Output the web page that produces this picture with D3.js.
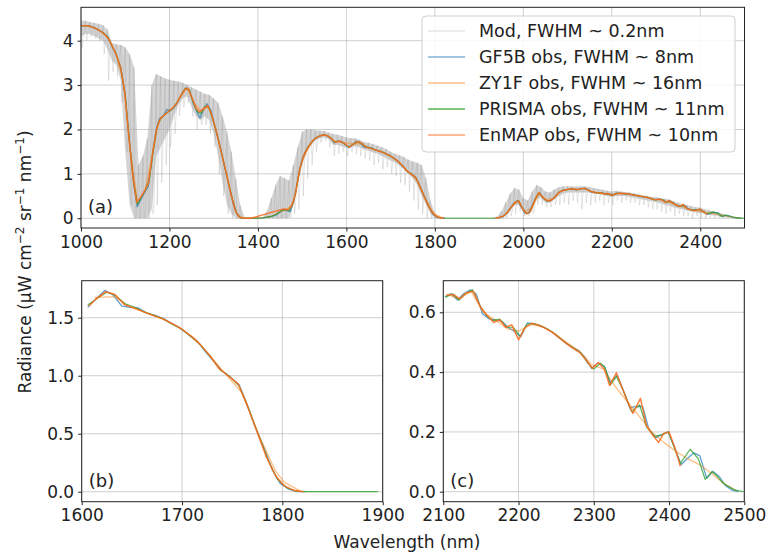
<!DOCTYPE html>
<html>
<head>
<meta charset="utf-8">
<script src="https://cdn.jsdelivr.net/npm/d3@7"></script>
<style>
  body { margin: 0; background: #fff; }
  svg { display: block; font-family: "DejaVu Sans", sans-serif; }
</style>
</head>
<body>
<svg id="chart" width="768" height="557"></svg>
<script>
// ---- data ----
// high resolution model: wavelength, upper envelope, lower edge of the dense band, tips of the absorption spikes
const modWl = d3.range(1000, 2501, 10);
const modHi = [4.45,4.45,4.42,4.40,4.38,4.35,4.25,3.95,3.92,3.90,3.85,3.70,3.40,1.20,1.40,1.80,3.00,3.25,3.20,3.15,
  3.12,3.10,3.08,3.05,3.00,2.95,2.90,2.85,2.80,2.78,2.70,2.60,2.30,1.95,1.50,0.90,0.30,0.02,0,0,
  0,0,0.15,0.45,0.75,0.95,0.90,0.85,1.20,1.60,1.95,2.00,2.00,1.98,1.97,1.96,1.93,1.90,1.88,1.85,
  1.82,1.80,1.80,1.77,1.72,1.70,1.67,1.64,1.60,1.56,1.50,1.45,1.42,1.38,1.32,1.28,1.25,1.20,0.90,0.40,
  0.10,0,0,0,0,0,0,0,0,0,0,0,0,0,0.03,0.15,0.35,0.55,0.68,0.65,
  0.45,0.40,0.60,0.75,0.70,0.60,0.58,0.65,0.70,0.72,0.72,0.72,0.71,0.72,0.72,0.70,0.68,0.66,0.64,0.62,
  0.60,0.62,0.60,0.59,0.58,0.56,0.54,0.52,0.50,0.48,0.47,0.45,0.44,0.42,0.38,0.35,0.32,0.30,0.27,0.25,
  0.24,0.20,0.18,0.15,0.12,0.10,0.06,0.04,0.02,0.01,0];
const modCore = [4.10,4.15,4.15,4.10,4.05,4.00,3.80,3.55,3.45,3.10,1.50,0.30,0,0,0,0,0.20,1.40,1.60,1.80,
  2.00,2.30,2.55,2.70,2.75,2.50,2.30,2.20,2.30,2.20,1.90,1.40,0.80,0.30,0.10,0,0,0,0,0,
  0,0,0,0,0,0,0,0,0.30,0.80,1.20,1.50,1.65,1.75,1.80,1.82,1.78,1.65,1.65,1.62,
  1.58,1.60,1.62,1.60,1.55,1.52,1.48,1.45,1.40,1.35,1.30,1.25,1.18,1.10,1.00,0.90,0.75,0.50,0.30,0.10,
  0,0,0,0,0,0,0,0,0,0,0,0,0,0,0,0,0.05,0.15,0.30,0.30,
  0.15,0.10,0.20,0.45,0.45,0.35,0.35,0.42,0.50,0.55,0.58,0.58,0.58,0.58,0.58,0.58,0.55,0.55,0.52,0.50,
  0.48,0.50,0.50,0.50,0.48,0.46,0.44,0.42,0.40,0.38,0.36,0.34,0.30,0.28,0.25,0.22,0.20,0.17,0.15,0.13,
  0.12,0.10,0.08,0.06,0.05,0.03,0.02,0.01,0,0,0];
const modLo = [3.85,4.00,4.10,4.05,4.00,3.70,3.10,3.30,3.20,2.60,1.60,0.40,0,0,0,0,0.10,0.30,0.80,1.20,
  1.60,1.90,2.30,2.50,2.60,2.30,2.00,2.10,2.10,1.90,1.60,1.00,0.50,0.10,0,0,0,0,0,0,
  0,0,0,0,0,0.02,0.05,0.05,0.10,0.20,0.50,0.90,1.20,1.50,1.70,1.75,1.60,1.40,1.45,1.50,
  1.40,1.50,1.45,1.40,1.35,1.30,1.20,1.25,1.10,1.15,1.00,0.95,0.80,0.75,0.60,0.40,0.20,0.10,0,0,
  0,0,0,0,0,0,0,0,0,0,0,0,0,0,0,0,0,0.05,0.10,0.15,
  0.05,0.05,0.10,0.30,0.30,0.25,0.25,0.30,0.30,0.35,0.30,0.40,0.35,0.20,0.35,0.30,0.35,0.40,0.30,0.35,
  0.30,0.40,0.35,0.40,0.35,0.35,0.30,0.30,0.25,0.20,0.20,0.15,0.10,0.15,0.05,0.10,0.05,0.05,0,0.05,
  0,0,0.02,0,0.01,0,0,0,0,0,0];

// sensor observations: [wavelength, radiance], null = no band
const gf5b = [[1000,4.34],[1010,4.34],[1020,4.33],[1030,4.29],[1040,4.24],[1050,4.18],[1060,4.09],[1070,3.88],[1080,3.68],[1090,3.38],
  [1100,2.78],[1110,1.68],[1120,0.72],[1127,0.26],[1135,0.42],[1144,0.58],[1152,0.72],[1160,1.30],[1169,1.95],[1177,2.24],
  [1186,2.30],[1194,2.45],[1202,2.42],[1211,2.50],[1219,2.63],[1228,2.80],[1237,2.94],[1245,2.88],[1253,2.62],[1261,2.42],
  [1269,2.26],[1277,2.45],[1285,2.58],[1294,2.42],[1302,2.10],[1311,1.76],[1319,1.40],[1328,1.02],[1336,0.66],[1344,0.33],
  [1352,0.10],[1360,0.01],[1370,0],[1390,0],[1410,0.01],[1430,0.04],[1440,0.07],[1449,0.13],[1457,0.19],[1465,0.17],
  [1473,0.15],[1481,0.38],[1490,0.85],[1498,1.25],[1506,1.48],[1515,1.62],[1523,1.74],[1531,1.81],[1540,1.85],[1548,1.88],
  [1556,1.86],[1565,1.80],[1573,1.70],[1581,1.74],[1590,1.72],[1598,1.66],
  [1606,1.59],[1614,1.66],[1623,1.735],[1631,1.70],[1640,1.60],[1648,1.59],[1656,1.585],[1665,1.54],[1673,1.52],[1682,1.49],
  [1690,1.45],[1698,1.41],[1707,1.35],[1715,1.30],[1723,1.21],[1732,1.12],[1740,1.04],[1748,0.99],[1757,0.92],[1765,0.75],
  [1773,0.56],[1782,0.37],[1790,0.19],[1798,0.07],[1807,0.02],[1815,0],[1823,0],[1880,null],
  [1945,0.01],[1953,0.04],[1962,0.11],[1970,0.22],[1978,0.33],[1987,0.40],[1995,0.26],[2003,0.12],[2012,0.11],[2020,0.28],
  [2028,0.46],[2037,0.57],[2045,0.45],[2053,0.39],[2062,0.40],[2070,0.47],[2078,0.56],[2087,0.62],[2095,0.64],
  [2102,0.652],[2110,0.662],[2119,0.641],[2127,0.662],[2136,0.675],[2144,0.66],[2152,0.595],[2161,0.578],[2169,0.575],[2178,0.57],
  [2186,0.55],[2195,0.535],[2203,0.518],[2212,0.565],[2220,0.562],[2229,0.555],[2237,0.545],[2246,0.532],[2254,0.515],[2263,0.497],
  [2271,0.483],[2280,0.472],[2288,0.45],[2297,0.412],[2305,0.43],[2314,0.42],[2322,0.365],[2331,0.39],[2339,0.34],[2348,0.28],
  [2356,0.285],[2365,0.285],[2373,0.21],[2382,0.18],[2390,0.19],[2399,0.20],[2407,0.15],[2416,0.09],[2424,0.11],[2433,0.13],
  [2441,0.12],[2450,0.045],[2458,0.068],[2467,0.05],[2475,0.02],[2484,0.005],[2492,0]];

const zy1f = [[1000,4.34],[1016,4.33],[1032,4.28],[1048,4.19],[1064,4.02],[1080,3.68],[1096,3.05],[1112,1.50],[1128,0.36],[1144,0.60],
  [1160,1.35],[1176,2.20],[1192,2.36],[1208,2.48],[1224,2.72],[1240,2.93],[1256,2.60],[1272,2.40],[1288,2.52],[1304,2.05],
  [1320,1.38],[1336,0.68],[1352,0.10],[1368,0],[1384,0],[1400,0.01],[1416,0.02],[1432,0.05],[1448,0.14],[1464,0.19],
  [1480,0.33],[1496,1.18],[1512,1.55],[1528,1.79],[1544,1.87],[1560,1.85],[1576,1.72],[1592,1.71],
  [1613,1.675],[1633,1.68],[1649,1.59],[1665,1.54],[1681,1.49],[1697,1.42],[1713,1.32],[1729,1.16],[1745,1.00],[1761,0.84],
  [1777,0.48],[1793,0.18],[1802,0.08],[1818,0.005],[1880,null],
  [1940,0],[1956,0.05],[1972,0.24],[1988,0.38],[2004,0.15],[2020,0.25],[2036,0.55],[2052,0.42],[2068,0.45],[2084,0.60],
  [2089,0.62],[2105,0.66],[2121,0.645],[2137,0.67],[2153,0.60],[2169,0.575],[2185,0.545],[2201,0.538],[2217,0.56],[2233,0.55],
  [2249,0.527],[2265,0.497],[2281,0.47],[2297,0.425],[2313,0.41],[2329,0.35],[2345,0.30],[2361,0.25],[2377,0.20],[2393,0.165],
  [2409,0.135],[2425,0.11],[2441,0.09],[2457,0.06],[2473,0.027],[2489,0.005]];

const prisma = [[1000,4.34],[1010,4.34],[1020,4.33],[1030,4.29],[1040,4.24],[1050,4.18],[1060,4.09],[1070,3.88],[1080,3.68],[1090,3.38],
  [1100,2.76],[1110,1.66],[1119,0.80],[1128,0.32],[1137,0.50],[1146,0.64],[1155,0.90],[1164,1.58],[1173,2.10],[1182,2.27],
  [1191,2.35],[1200,2.42],[1209,2.49],[1218,2.62],[1227,2.79],[1236,2.93],[1245,2.89],[1254,2.60],[1263,2.40],[1271,2.36],
  [1280,2.52],[1289,2.50],[1298,2.22],[1307,1.90],[1316,1.55],[1325,1.15],[1334,0.78],[1343,0.40],[1352,0.11],[1361,0.01],
  [1370,0],[1380,0],[1390,0],[1400,0],[1410,0.005],[1420,0.02],[1430,0.04],[1440,0.08],[1450,0.15],[1460,0.20],
  [1470,0.17],[1478,0.30],[1486,0.60],[1493,1.05],[1501,1.35],[1510,1.55],[1519,1.69],[1528,1.79],[1537,1.84],[1546,1.88],
  [1555,1.87],[1564,1.82],[1573,1.71],[1582,1.74],[1591,1.71],[1598,1.65],
  [1606,1.61],[1616,1.67],[1625,1.72],[1634,1.69],[1643,1.62],[1653,1.59],[1662,1.55],[1672,1.52],[1681,1.49],[1691,1.44],
  [1700,1.40],[1710,1.33],[1719,1.26],[1729,1.16],[1738,1.05],[1748,0.99],[1757,0.91],[1767,0.70],[1776,0.49],[1786,0.27],
  [1795,0.11],[1805,0.03],[1814,0.005],[1824,0],[1840,0],[1860,0],[1880,0],[1895,0],[1910,0],[1925,0],[1935,0],
  [1945,0.01],[1954,0.04],[1963,0.12],[1972,0.24],[1981,0.36],[1990,0.39],[1999,0.21],[2008,0.10],[2017,0.17],[2026,0.42],
  [2035,0.58],[2044,0.47],[2053,0.39],[2062,0.40],[2071,0.47],[2080,0.58],[2089,0.63],[2098,0.645],
  [2103,0.65],[2112,0.662],[2121,0.641],[2130,0.664],[2139,0.675],[2148,0.625],[2157,0.59],[2166,0.572],[2175,0.577],[2184,0.55],
  [2193,0.55],[2202,0.52],[2211,0.56],[2220,0.562],[2229,0.556],[2238,0.545],[2247,0.53],[2256,0.512],[2265,0.494],[2274,0.479],
  [2283,0.463],[2292,0.43],[2300,0.41],[2309,0.43],[2315,0.415],[2322,0.357],[2330,0.385],[2339,0.34],[2350,0.268],[2361,0.29],
  [2370,0.217],[2381,0.185],[2390,0.19],[2399,0.20],[2415,0.095],[2428,0.142],[2439,0.11],[2448,0.041],[2457,0.067],[2463,0.055],
  [2472,0.028],[2486,0.007],[2499,0]];

const enmap = [[1000,4.34],[1009,4.34],[1018,4.33],[1027,4.30],[1036,4.26],[1045,4.21],[1054,4.14],[1063,4.03],[1072,3.85],[1081,3.65],
  [1090,3.38],[1099,2.82],[1108,1.85],[1117,0.95],[1126,0.35],[1135,0.48],[1144,0.62],[1153,0.80],[1162,1.48],[1171,2.02],
  [1180,2.25],[1189,2.33],[1198,2.41],[1207,2.48],[1216,2.58],[1225,2.75],[1234,2.90],[1242,2.93],[1251,2.72],[1260,2.47],
  [1268,2.40],[1277,2.47],[1286,2.54],[1295,2.35],[1304,2.02],[1313,1.66],[1322,1.28],[1331,0.90],[1340,0.50],[1349,0.17],
  [1358,0.02],[1367,0],[1376,0],[1385,0],[1395,0.03],[1458,0.21],[1467,0.19],[1476,0.27],[1485,0.55],[1494,1.08],
  [1503,1.40],[1512,1.58],[1521,1.71],[1530,1.80],[1539,1.85],[1548,1.88],[1557,1.86],[1566,1.79],[1575,1.71],[1584,1.74],
  [1593,1.70],
  [1607,1.60],[1614,1.66],[1624,1.725],[1633,1.70],[1643,1.61],[1652,1.585],[1662,1.55],[1671,1.52],[1681,1.49],[1690,1.45],
  [1700,1.40],[1709,1.34],[1718,1.27],[1728,1.17],[1737,1.06],[1746,1.00],[1756,0.93],[1765,0.74],[1775,0.51],[1784,0.30],
  [1793,0.14],[1802,0.05],[1812,0.01],[1821,0],[1880,null],
  [1937,0],[1946,0.02],[1955,0.05],[1964,0.13],[1973,0.25],[1982,0.37],[1990,0.39],[1998,0.22],[2007,0.10],[2016,0.15],
  [2026,0.41],[2035,0.58],[2043,0.48],[2052,0.40],[2061,0.39],[2070,0.46],[2079,0.57],[2088,0.62],[2097,0.645],
  [2104,0.657],[2113,0.66],[2122,0.645],[2131,0.666],[2140,0.67],[2149,0.62],[2158,0.59],[2167,0.566],[2175,0.575],[2183,0.55],
  [2191,0.558],[2200,0.508],[2209,0.55],[2218,0.563],[2227,0.557],[2236,0.546],[2245,0.533],[2254,0.514],[2263,0.497],[2272,0.48],
  [2281,0.466],[2290,0.44],[2298,0.412],[2306,0.432],[2314,0.41],[2321,0.355],[2330,0.398],[2338,0.345],[2345,0.30],[2352,0.262],
  [2362,0.312],[2370,0.22],[2378,0.19],[2386,0.165],[2393,0.195],[2400,0.20],[2408,0.145],[2415,0.085]];

const legendLabels = ["Mod, FWHM ~ 0.2nm", "GF5B obs, FWHM ~ 8nm", "ZY1F obs, FWHM ~ 16nm",
  "PRISMA obs, FWHM ~ 11nm", "EnMAP obs, FWHM ~ 10nm"];

const ticksA = { x: d3.range(1000, 2501, 200), y: [0, 1, 2, 3, 4] };
const ticksB = { x: [1600, 1700, 1800, 1900], y: [0, 0.5, 1.0, 1.5] };
const ticksC = { x: [2100, 2200, 2300, 2400, 2500], y: [0, 0.2, 0.4, 0.6] };

// ---- styles ----
const series = [
  { data: gf5b,   color: "#1f77b4", opacity: 0.7,  legOpacity: 0.55, width: 1.3 },
  { data: zy1f,   color: "#ff7f0e", opacity: 0.5,  legOpacity: 0.5,  width: 1.3 },
  { data: prisma, color: "#2ca02c", opacity: 0.8,  legOpacity: 0.8,  width: 1.2 },
  { data: enmap,  color: "#ff6a1f", opacity: 0.9,  legOpacity: 0.6,  width: 1.4 }
];
const modStyle = { color: "#8a8a8a", opacity: 0.38, legOpacity: 0.3, width: 0.6, band: "#b0b0b0", bandOpacity: 0.55 };
const axisColor = "#222";
const gridColor = "#b0b0b0";

const svg = d3.select("#chart");

function panel(box, xDom, yDom, ticks, tag, fmt, drawMod) {
  const x = d3.scaleLinear().domain(xDom).range([box.x0, box.x1]);
  const y = d3.scaleLinear().domain(yDom).range([box.y1, box.y0]);
  const g = svg.append("g");
  const id = "clip" + tag.replace(/[()]/g, "");
  g.append("clipPath").attr("id", id).append("rect")
    .attr("x", box.x0).attr("y", box.y0).attr("width", box.x1 - box.x0).attr("height", box.y1 - box.y0);

  // grid
  g.append("g").selectAll("line").data(ticks.x).join("line")
    .attr("x1", d => x(d)).attr("x2", d => x(d)).attr("y1", box.y0).attr("y2", box.y1)
    .attr("stroke", gridColor).attr("stroke-width", 0.8).attr("opacity", 0.75);
  g.append("g").selectAll("line").data(ticks.y).join("line")
    .attr("y1", d => y(d)).attr("y2", d => y(d)).attr("x1", box.x0).attr("x2", box.x1)
    .attr("stroke", gridColor).attr("stroke-width", 0.8).attr("opacity", 0.75);

  const plot = g.append("g").attr("clip-path", `url(#${id})`);

  if (drawMod) {
    const rows = modWl.map((w, i) => ({ w, hi: modHi[i], core: modCore[i], lo: modLo[i] }));
    // dense part of the model spectrum
    plot.append("path")
      .attr("d", d3.area().x(d => x(d.w)).y0(d => y(d.core)).y1(d => y(d.hi))(rows))
      .attr("fill", modStyle.band).attr("opacity", modStyle.bandOpacity);
    // absorption spikes reaching down to the lower tips
    const pts = [];
    rows.forEach(d => { pts.push([d.w, d.hi]); pts.push([d.w + 2.5, d.lo]); pts.push([d.w + 5, d.core]); });
    plot.append("path")
      .attr("d", d3.line().x(d => x(d[0])).y(d => y(d[1]))(pts.filter(d => d[0] <= 2500)))
      .attr("fill", "none").attr("stroke", modStyle.color)
      .attr("stroke-width", modStyle.width).attr("opacity", modStyle.opacity);
  }

  const line = d3.line().defined(d => d[1] != null).x(d => x(d[0])).y(d => y(d[1]));
  series.forEach(s => {
    const pts = s.data.filter(d => d[0] >= xDom[0] && d[0] <= xDom[1]);
    plot.append("path").attr("d", line(pts))
      .attr("fill", "none").attr("stroke", s.color)
      .attr("stroke-width", s.width).attr("opacity", s.opacity)
      .attr("stroke-linejoin", "round");
  });

  // axes
  g.append("g").attr("transform", `translate(0,${box.y1})`)
    .call(d3.axisBottom(x).tickValues(ticks.x).tickSize(3.5).tickPadding(4).tickFormat(d3.format("d")))
    .call(a => a.select(".domain").remove())
    .call(a => a.selectAll("line").attr("stroke", axisColor))
    .call(a => a.selectAll("text").attr("font-size", 17).attr("fill", axisColor)
      .attr("font-family", "DejaVu Sans"));
  g.append("g").attr("transform", `translate(${box.x0},0)`)
    .call(d3.axisLeft(y).tickValues(ticks.y).tickSize(3.5).tickPadding(4).tickFormat(fmt))
    .call(a => a.select(".domain").remove())
    .call(a => a.selectAll("line").attr("stroke", axisColor))
    .call(a => a.selectAll("text").attr("font-size", 17).attr("fill", axisColor)
      .attr("font-family", "DejaVu Sans"));

  g.append("rect").attr("x", box.x0).attr("y", box.y0)
    .attr("width", box.x1 - box.x0).attr("height", box.y1 - box.y0)
    .attr("fill", "none").attr("stroke", axisColor).attr("stroke-width", 1);

  g.append("text").attr("x", box.x0 + 7).attr("y", box.y1 - 15)
    .attr("font-size", 18).attr("fill", axisColor).text(tag);
  return g;
}

panel({ x0: 81, x1: 744.5, y0: 7.3, y1: 228 }, [1000, 2500], [-0.22, 4.752], ticksA, "(a)", d3.format("d"), true);
panel({ x0: 81.7, x1: 382.7, y0: 280.7, y1: 501.7 }, [1600, 1900], [-0.086, 1.819], ticksB, "(b)", d3.format(".1f"), false);
panel({ x0: 443.3, x1: 744.3, y0: 280.7, y1: 501.7 }, [2100, 2500], [-0.0334, 0.7057], ticksC, "(c)", d3.format(".1f"), false);

// legend
const leg = svg.append("g").attr("transform", "translate(422,16)");
leg.append("rect").attr("width", 313).attr("height", 136).attr("rx", 4)
  .attr("fill", "#fff").attr("fill-opacity", 0.85).attr("stroke", "#d0d0d0");
const legStyles = [modStyle].concat(series);
legendLabels.forEach((lab, i) => {
  const yy = 15 + i * 26;
  const st = legStyles[i];
  leg.append("line").attr("x1", 6).attr("x2", 43).attr("y1", yy).attr("y2", yy)
    .attr("stroke", st.color).attr("stroke-width", i === 0 ? 1 : 1.6)
    .attr("opacity", st.legOpacity);
  leg.append("text").attr("x", 57).attr("y", yy).attr("dy", "0.35em")
    .attr("font-size", 17.5).attr("fill", axisColor).text(lab);
});

// axis titles
svg.append("text").attr("x", 407).attr("y", 548).attr("text-anchor", "middle")
  .attr("font-size", 17).attr("fill", axisColor).text("Wavelength (nm)");
const yl = svg.append("text").attr("transform", "translate(31,262) rotate(-90)")
  .attr("text-anchor", "middle").attr("font-size", 17).attr("fill", axisColor);
yl.append("tspan").text("Radiance (μW cm");
yl.append("tspan").attr("dy", -7).attr("font-size", 12).text("−2");
yl.append("tspan").attr("dy", 7).text(" sr");
yl.append("tspan").attr("dy", -7).attr("font-size", 12).text("−1");
yl.append("tspan").attr("dy", 7).text(" nm");
yl.append("tspan").attr("dy", -7).attr("font-size", 12).text("−1");
yl.append("tspan").attr("dy", 7).text(")");
</script>
</body>
</html>
